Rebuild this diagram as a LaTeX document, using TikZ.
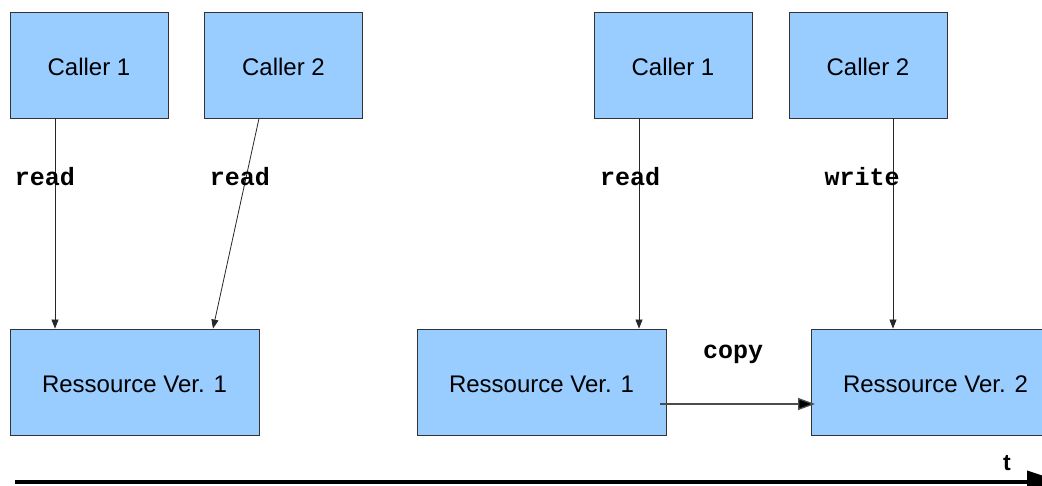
\documentclass[tikz,border=0pt]{standalone}
\usepackage{fontspec}
\setmainfont{Liberation Sans}
\newfontfamily\monob{Liberation Mono}
\usetikzlibrary{arrows.meta}
\definecolor{boxblue}{HTML}{99CCFF}
\definecolor{edge}{HTML}{333333}
\begin{document}
\begin{tikzpicture}[x=1pt,y=-1pt,
  box/.style={draw=edge,line width=0.9pt,fill=boxblue,minimum width=158pt,minimum height=106pt,inner sep=0pt,text height=21pt,text depth=0pt,font=\fontsize{24}{26}\selectfont},
  rbox/.style={box,minimum width=249pt},
  call/.style={draw=black!85,line width=0.8pt,-{Triangle[length=9pt,width=7pt]}},
  lbl/.style={font=\monob\bfseries\fontsize{25}{27}\selectfont,inner sep=0pt}]
\useasboundingbox (0,0) rectangle (1042,485);
\clip (0,0) rectangle (1042,485);
\node[box] (c1l) at (89,65) {Caller 1};
\node[box] (c2l) at (283.5,65) {Caller 2};
\node[rbox] (r1l) at (134.5,382) {Ressource Ver. 1};
\node[box] (c1r) at (673,65) {Caller 1};
\node[box] (c2r) at (868,65) {Caller 2};
\node[rbox] (r1r) at (541.5,382) {Ressource Ver. 1};
\node[rbox] (r2r) at (935.5,382) {Ressource Ver. 2};
\draw[call] (c1l.south -| 55,0) -- (r1l.north -| 55,0);
\draw[call] (c2l.south -| 259,0) -- (r1l.north -| 213,0);
\draw[call] (c1r.south -| 639,0) -- (r1r.north -| 639,0);
\draw[call] (c2r.south -| 893,0) -- (r2r.north -| 893,0);
\coordinate (cs) at (660,404);
\coordinate (ce) at (815,404);
\draw[draw=black!70,line width=1.3pt,-{Triangle[length=17pt,width=12pt,fill=black]}] (cs) -- (ce);
\node[lbl] (l1) at (45,177) {read};
\node[lbl] (l2) at (240,177) {read};
\node[lbl] (l3) at (630,177) {read};
\node[lbl] (l4) at (862,177) {write};
\node[lbl] (l5) at (733,354) {copy};
\node[font=\bfseries\fontsize{23}{25}\selectfont,inner sep=0pt] (tl) at (1007,463) {t};
\coordinate (ts) at (15,482);
\coordinate (te) at (1062,482);
\draw[line width=4pt,-{Triangle[length=35pt,width=22pt]}] (ts) -- (te);
\end{tikzpicture}
\end{document}
